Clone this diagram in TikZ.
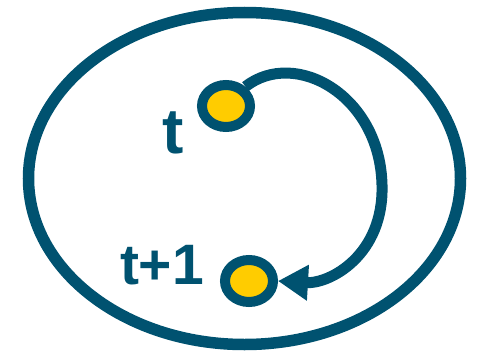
\documentclass[tikz,border=0pt]{standalone}
\usepackage{fontspec}
\setmainfont{Liberation Sans}
\usetikzlibrary{arrows.meta,shapes.geometric}
\definecolor{loopblue}{RGB}{0,82,112}
\definecolor{stateyellow}{RGB}{255,204,0}

\begin{document}
\begin{tikzpicture}[x=1pt, y=-1pt,
  state/.style={ellipse, draw=loopblue, fill=stateyellow, line width=10pt,
    minimum width=48pt, minimum height=42pt, inner sep=0pt},
  lbl/.style={text=loopblue, font=\bfseries, inner sep=0pt},
  arr/.style={-{Triangle[length=30pt, width=34pt]}, loopblue, line width=11pt}]
  \useasboundingbox (0,0) rectangle (481,353);
  % outer region
  \draw[loopblue, line width=11.5pt] (244.5,178.5) ellipse [x radius=216, y radius=166];
  \node[state] (tnow) at (226,106) {};
  \node[state] (tnext) at (249,281) {};
  \node[lbl, font=\fontsize{64}{64}\bfseries\selectfont] (tlab) at (173,133) {t};
  \node[lbl, font=\fontsize{57}{57}\bfseries\selectfont] (tnextlab) at (162,265) {t+1};
  \coordinate (turn) at (382,185);
  \draw[arr] (tnow.45) .. controls (295,48) and (380,95) .. (turn)
    .. controls (384,255) and (330,284) .. (tnext.east);
\end{tikzpicture}
\end{document}
